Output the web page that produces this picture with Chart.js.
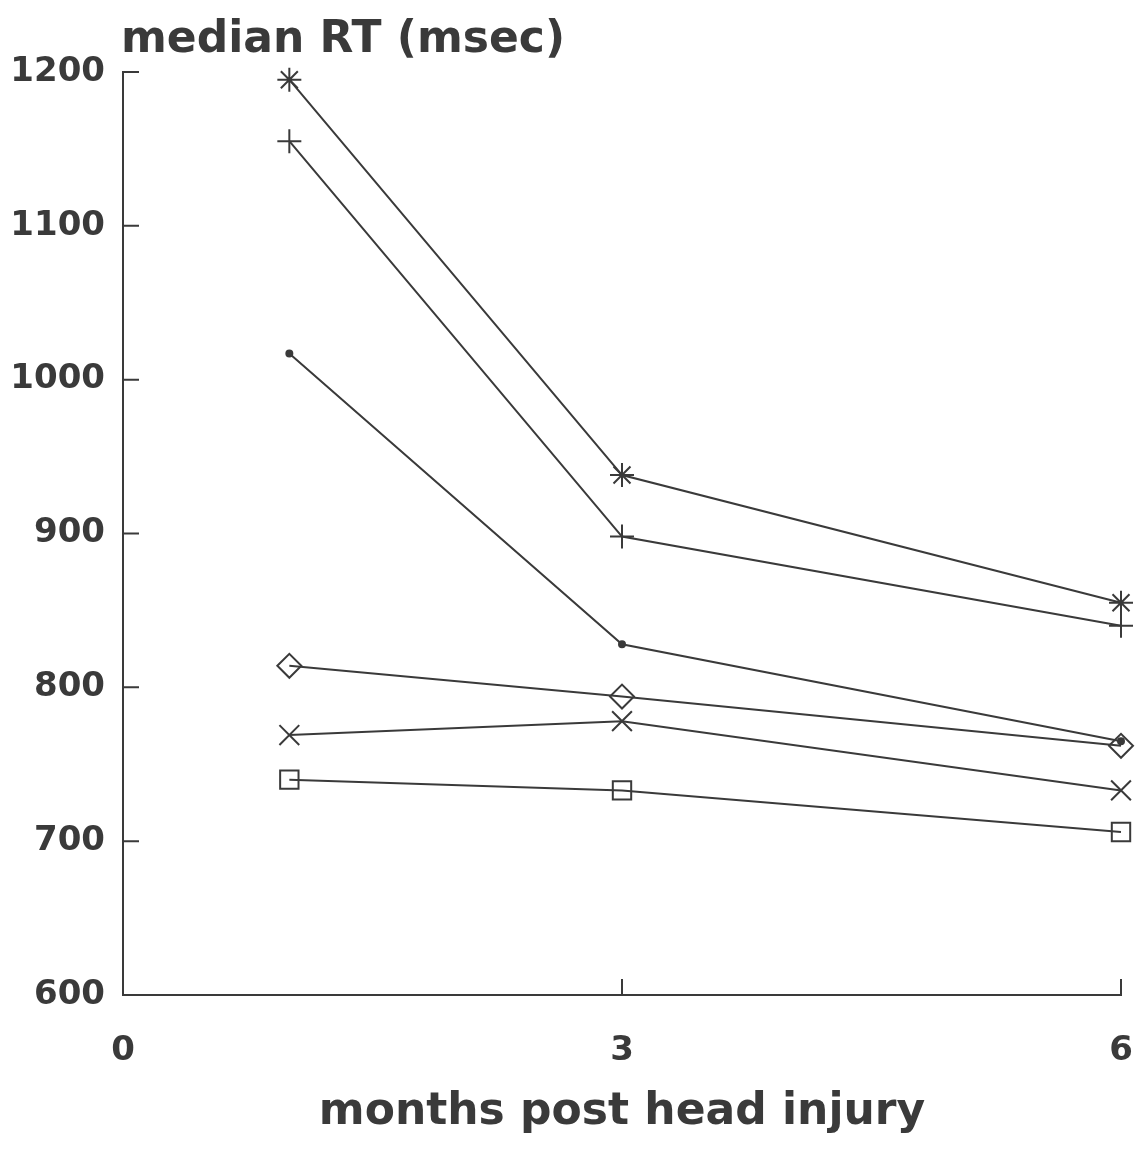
<!DOCTYPE html>
<html>
<head>
<meta charset="utf-8">
<script src="https://cdn.jsdelivr.net/npm/chart.js@4/dist/chart.umd.min.js"></script>
<style>
  html, body { margin: 0; padding: 0; background: #ffffff; }
  #wrap { width: 1146px; height: 1153px; position: relative; }
</style>
</head>
<body>
<div id="wrap"><canvas id="rtChart"></canvas></div>
<script>
// months post head injury at which RT was measured
const months = [1, 3, 6];

// median RT (msec) per condition
const starSeries = [1195, 938, 855];
const plusSeries = [1155, 898, 840];
const dotSeries = [1017, 828, 765];
const diamondSeries = [814, 794, 762];
const crossSeries = [769, 778, 733];
const squareSeries = [740, 733, 706];

const yTicks = [600, 700, 800, 900, 1000, 1100, 1200];
const xTicks = [0, 3, 6];

const ink = '#3a3a3a';
const fontFamily = '"DejaVu Sans", sans-serif';

function toPoints(values) {
    return months.map((m, i) => ({ x: m, y: values[i] }));
}

function makeSeries(label, values, style, radius) {
    return {
        label: label,
        data: toPoints(values),
        showLine: true,
        clip: false,
        borderColor: ink,
        backgroundColor: style === 'circle' ? ink : 'rgba(0,0,0,0)',
        borderWidth: 2,
        pointStyle: style,
        pointRadius: radius,
        pointBorderColor: ink,
        pointBorderWidth: 2
    };
}

// draws the short inward tick marks and the y-axis caption
const inwardTicks = {
    id: 'inwardTicks',
    afterDraw(chart) {
        const ctx = chart.ctx;
        const x = chart.scales.x;
        const y = chart.scales.y;
        const area = chart.chartArea;
        ctx.save();
        ctx.strokeStyle = ink;
        ctx.lineWidth = 2;
        ctx.beginPath();
        yTicks.forEach(v => {
            const py = y.getPixelForValue(v);
            ctx.moveTo(area.left, py);
            ctx.lineTo(area.left + 16, py);
        });
        xTicks.forEach(v => {
            const px = x.getPixelForValue(v);
            ctx.moveTo(px, area.bottom);
            ctx.lineTo(px, area.bottom - 16);
        });
        ctx.stroke();

        ctx.fillStyle = ink;
        ctx.font = 'bold 44px ' + fontFamily;
        ctx.textAlign = 'left';
        ctx.textBaseline = 'alphabetic';
        ctx.fillText('median RT (msec)', area.left - 2, 52);
        ctx.restore();
    }
};

const ctx = document.getElementById('rtChart');
new Chart(ctx, {
    type: 'scatter',
    data: {
        datasets: [
            makeSeries('asterisk', starSeries, 'star', 12),
            makeSeries('plus', plusSeries, 'cross', 12),
            makeSeries('dot', dotSeries, 'circle', 3),
            makeSeries('diamond', diamondSeries, 'rectRot', 12),
            makeSeries('cross', crossSeries, 'crossRot', 14),
            makeSeries('square', squareSeries, 'rect', 13)
        ]
    },
    options: {
        responsive: true,
        maintainAspectRatio: false,
        animation: false,
        layout: {
            padding: { top: 72, right: 25, left: 0, bottom: 0 }
        },
        plugins: {
            legend: { display: false },
            tooltip: { enabled: false }
        },
        scales: {
            x: {
                type: 'linear',
                min: 0,
                max: 6,
                afterFit: scale => {
                    scale.height = 158;
                    scale.paddingLeft = 0;
                    scale.paddingRight = 0;
                },
                ticks: {
                    stepSize: 3,
                    color: ink,
                    padding: 36,
                    font: { family: fontFamily, size: 34, weight: 'bold' }
                },
                grid: { display: false, drawTicks: false },
                border: { display: true, color: ink, width: 2 },
                title: {
                    display: true,
                    text: 'months post head injury',
                    color: ink,
                    padding: { top: 0, bottom: 14 },
                    font: { family: fontFamily, size: 44, weight: 'bold' }
                }
            },
            y: {
                type: 'linear',
                min: 600,
                max: 1200,
                afterFit: scale => { scale.width = 123; },
                ticks: {
                    stepSize: 100,
                    color: ink,
                    padding: 18,
                    callback: value => String(value),
                    font: { family: fontFamily, size: 34, weight: 'bold' }
                },
                grid: { display: false, drawTicks: false },
                border: { display: true, color: ink, width: 2 }
            }
        }
    },
    plugins: [inwardTicks]
});
</script>
</body>
</html>
